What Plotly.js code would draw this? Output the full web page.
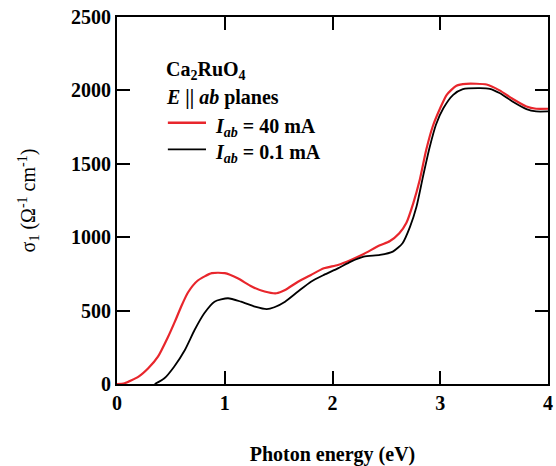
<!DOCTYPE html>
<html>
<head>
<meta charset="utf-8">
<script src="https://cdn.plot.ly/plotly-3.0.1.min.js"></script>
<style>
  html, body { margin: 0; padding: 0; background: #fff; }
  #chart { width: 556px; height: 466px; }
</style>
</head>
<body>
<div id="chart"></div>
<script>
// Optical conductivity of Ca2RuO4, E || ab, for two in-plane currents
const energy40 = [0.00, 0.07, 0.20, 0.29, 0.38, 0.47, 0.54, 0.60, 0.66, 0.75, 0.88, 1.00, 1.12, 1.25, 1.37,
  1.48, 1.56, 1.68, 1.80, 1.92, 2.05, 2.17, 2.29, 2.44, 2.53, 2.62, 2.685, 2.75, 2.81, 2.87,
  2.93, 3.00, 3.06, 3.15, 3.24, 3.43, 3.55, 3.67, 3.80, 3.89, 4.00];
const sigma40 = [0, 5, 50, 107, 186, 315, 430, 535, 625, 705, 755, 755, 720, 664, 630,
  618, 640, 697, 743, 788, 811, 845, 886, 945, 972, 1027, 1096, 1232, 1391, 1595,
  1754, 1880, 1970, 2032, 2045, 2040, 2000, 1943, 1890, 1875, 1875];

const energy01 = [0.35, 0.44, 0.53, 0.63, 0.72, 0.81, 0.905, 1.03, 1.15, 1.28, 1.39, 1.46, 1.56,
  1.68, 1.80, 1.92, 2.05, 2.17, 2.29, 2.44, 2.56, 2.65, 2.72, 2.78, 2.84, 2.90, 2.96, 3.03,
  3.12, 3.21, 3.37, 3.46, 3.55, 3.67, 3.80, 3.89, 4.00];
const sigma01 = [0, 39, 118, 232, 368, 482, 561, 584, 561, 527, 510, 523, 561,
  630, 697, 743, 788, 834, 868, 879, 902, 959, 1072, 1209, 1413, 1607, 1766, 1880,
  1970, 2009, 2016, 2011, 1982, 1925, 1873, 1857, 1857];

const seriesNames = ['<i>I</i><sub><i>ab</i></sub> = 40 mA', '<i>I</i><sub><i>ab</i></sub> = 0.1 mA'];
const seriesColors = ['#e8262c', '#000000'];

const xTicks = [0, 1, 2, 3, 4];
const yTicks = [0, 500, 1000, 1500, 2000, 2500];

const serif = "'Liberation Serif', 'Times New Roman', serif";
const boldFont = { family: serif, size: 20, color: '#000', weight: 700 };

const traces = [
  {
    x: energy40, y: sigma40, type: 'scatter', mode: 'lines', name: seriesNames[0],
    line: { color: seriesColors[0], width: 2.2, shape: 'spline', smoothing: 0.6 }
  },
  {
    x: energy01, y: sigma01, type: 'scatter', mode: 'lines', name: seriesNames[1],
    line: { color: seriesColors[1], width: 1.8, shape: 'spline', smoothing: 0.6 }
  }
];

const axisCommon = {
  showline: true, linecolor: '#000', linewidth: 2,
  mirror: 'ticks', ticks: 'inside', ticklen: 13, tickwidth: 2, tickcolor: '#000',
  showgrid: false, zeroline: false, tickfont: boldFont, automargin: false
};

// In-plot key: sample line + label for each series
const keyRows = [0.712, 0.6395];
const keyShapes = keyRows.map((yy, i) => ({
  type: 'line', xref: 'paper', yref: 'paper', x0: 0.118, x1: 0.2065, y0: yy, y1: yy,
  line: { color: seriesColors[i], width: i === 0 ? 2.4 : 1.8 }
}));
const keyLabels = keyRows.map((yy, i) => ({
  xref: 'paper', yref: 'paper', x: 0.222, y: yy - 0.012, xanchor: 'left', yanchor: 'middle',
  text: seriesNames[i], showarrow: false, font: boldFont
}));

const layout = {
  width: 556, height: 466,
  margin: { l: 117, r: 8, t: 17, b: 82 },
  paper_bgcolor: '#fff', plot_bgcolor: '#fff',
  font: { family: serif, color: '#000' },
  showlegend: false,
  xaxis: Object.assign({}, axisCommon, {
    range: [0, 4], tickvals: xTicks, ticktext: xTicks.map(String),
    title: { text: 'Photon energy (eV)', font: boldFont, standoff: 35 }
  }),
  yaxis: Object.assign({}, axisCommon, {
    range: [0, 2500], tickvals: yTicks, ticktext: yTicks.map(String),
    title: { text: 'σ<sub>1</sub> (Ω<sup>-1</sup> cm<sup>-1</sup>)', standoff: 30,
             font: { family: serif, size: 20, color: '#000' } }
  }),
  shapes: keyShapes,
  annotations: [
    { xref: 'paper', yref: 'paper', x: 0.11, y: 0.853, xanchor: 'left', yanchor: 'middle',
      text: 'Ca<sub>2</sub>RuO<sub>4</sub>', showarrow: false, font: boldFont },
    { xref: 'paper', yref: 'paper', x: 0.11, y: 0.78, xanchor: 'left', yanchor: 'middle',
      text: '<b><i>E</i></b> || <i>ab</i> planes', showarrow: false, font: boldFont }
  ].concat(keyLabels)
};

Plotly.newPlot('chart', traces, layout, { displayModeBar: false, staticPlot: true });
</script>
</body>
</html>
